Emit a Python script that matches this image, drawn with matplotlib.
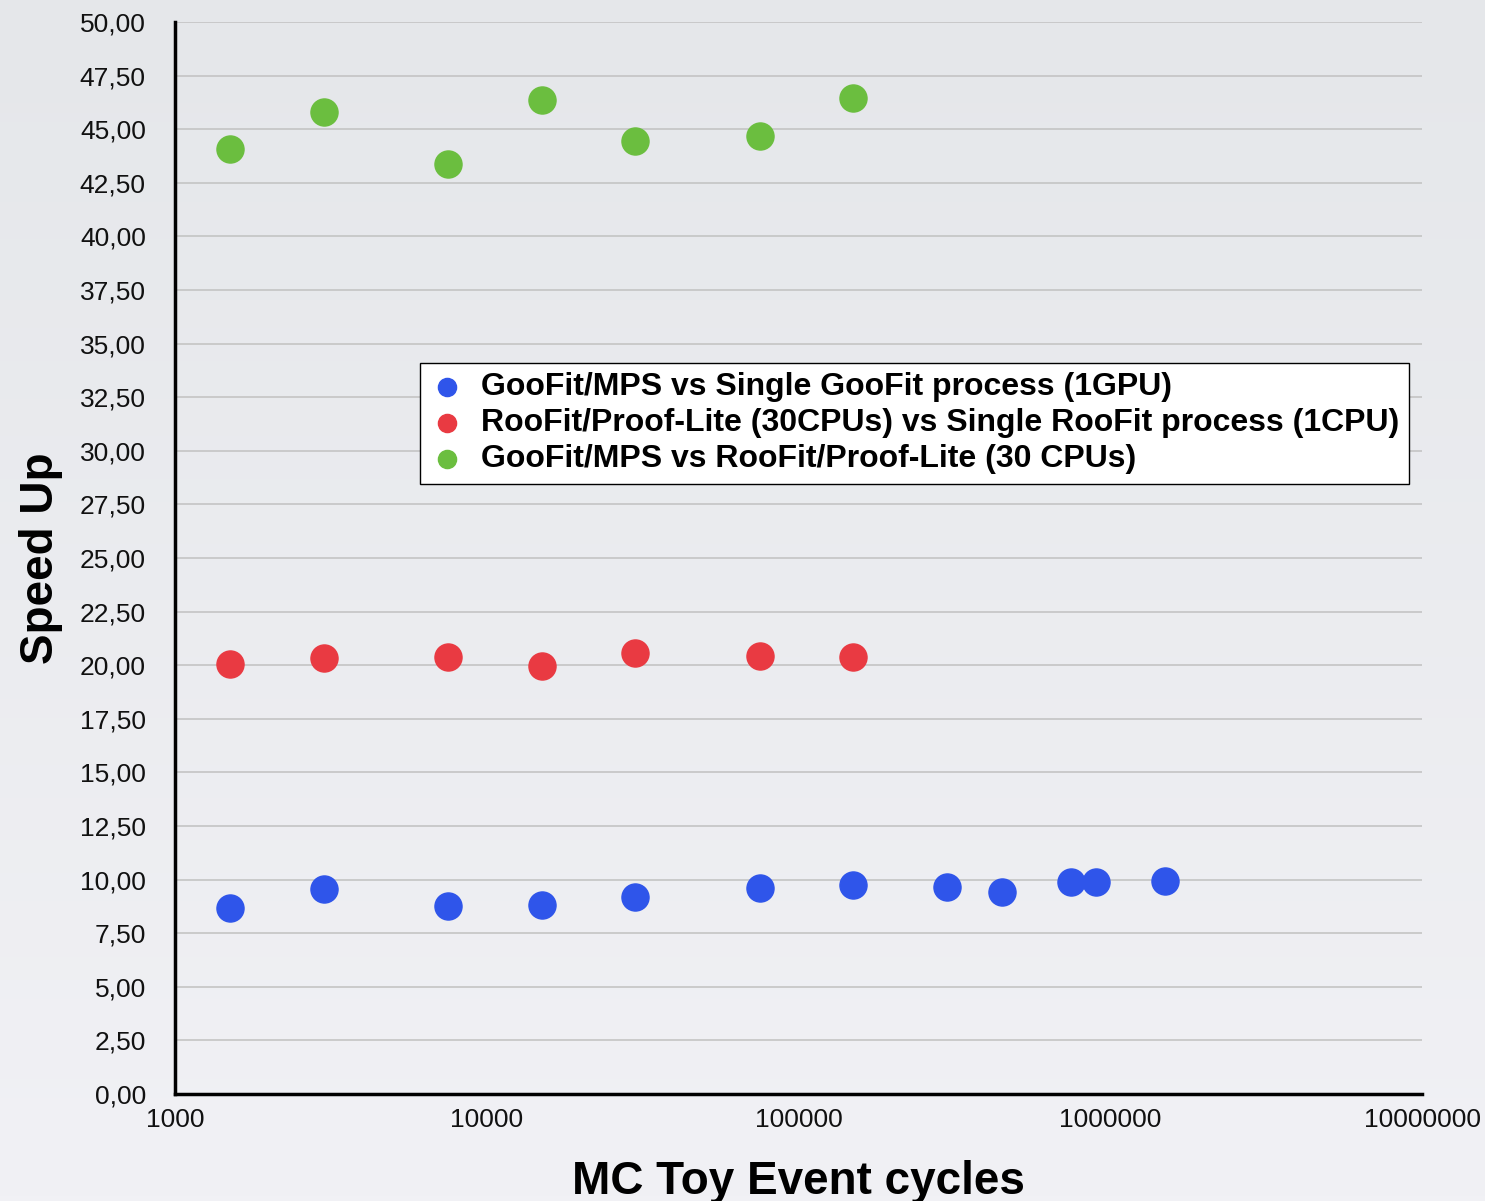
import numpy as np
import matplotlib.pyplot as plt
from matplotlib.colors import LinearSegmentedColormap
from matplotlib.ticker import FixedLocator, FuncFormatter

plt.rcParams['font.family'] = ['Liberation Sans', 'DejaVu Sans']

# MC toy event cycles and measured speed ups
cycles_gpu = [1500, 3000, 7500, 15000, 30000, 75000, 150000,
              300000, 450000, 750000, 900000, 1500000]
speedup_gpu = [8.68, 9.56, 8.77, 8.82, 9.19, 9.61, 9.75,
               9.65, 9.42, 9.89, 9.89, 9.93]

cycles_cpu = [1500, 3000, 7500, 15000, 30000, 75000, 150000]
speedup_cpu = [20.06, 20.34, 20.38, 19.96, 20.57, 20.43, 20.38]
speedup_gpu_vs_cpu = [44.08, 45.80, 43.38, 46.36, 44.45, 44.68, 46.45]

labels = ["GooFit/MPS vs Single GooFit process (1GPU)",
          "RooFit/Proof-Lite (30CPUs) vs Single RooFit process (1CPU)",
          "GooFit/MPS vs RooFit/Proof-Lite (30 CPUs)"]
colors = ["#2f55ea", "#e93a42", "#6bbe3f"]

x_ticks = [1000, 10000, 100000, 1000000, 10000000]
y_ticks = np.arange(0, 50.01, 2.5)

fig = plt.figure(figsize=(14.85, 12.01), dpi=100)

# soft grey backdrop, slightly darker at the top
bg = fig.add_axes([0, 0, 1, 1], zorder=-10)
grad = np.linspace(0, 1, 256).reshape(-1, 1)
bg.imshow(grad, aspect='auto', cmap=LinearSegmentedColormap.from_list(
    'bg', ['#e5e7ea', '#f1f1f5']), extent=[0, 1, 0, 1], origin='upper')
bg.axis('off')

ax = fig.add_axes([175 / 1485, 1 - 1094 / 1201, 1247 / 1485, 1072 / 1201])
ax.patch.set_alpha(0)

ax.scatter(cycles_gpu, speedup_gpu, s=380, color=colors[0], label=labels[0], zorder=3)
ax.scatter(cycles_cpu, speedup_cpu, s=380, color=colors[1], label=labels[1], zorder=3)
ax.scatter(cycles_cpu, speedup_gpu_vs_cpu, s=380, color=colors[2], label=labels[2], zorder=3)

ax.set_xscale('log')
ax.set_xlim(1000, 10000000)
ax.set_ylim(0, 50)
ax.xaxis.set_major_locator(FixedLocator(x_ticks))
ax.xaxis.set_minor_locator(FixedLocator([]))
ax.xaxis.set_major_formatter(FuncFormatter(lambda v, p: f"{int(round(v))}"))
ax.set_yticks(y_ticks)
ax.yaxis.set_major_formatter(FuncFormatter(lambda v, p: f"{v:.2f}".replace('.', ',')))
ax.tick_params(axis='both', length=0, labelsize=19, colors='#111111')
ax.tick_params(axis='x', pad=10)
ax.tick_params(axis='y', pad=21)

ax.grid(axis='y', color='#c4c4c4', linewidth=1.2, zorder=0)
ax.grid(axis='x', visible=False)
for side in ['top', 'right']:
    ax.spines[side].set_visible(False)
for side in ['left', 'bottom']:
    ax.spines[side].set_linewidth(2.5)
    ax.spines[side].set_color('black')

ax.set_ylabel("Speed Up", fontsize=33, fontweight='bold', labelpad=12)
ax.set_xlabel("MC Toy Event cycles", fontsize=33, fontweight='bold', labelpad=20)

leg = ax.legend(loc='upper left', bbox_to_anchor=(0.1965, 0.682), borderaxespad=0,
                prop={'size': 23, 'weight': 'bold'}, markerscale=0.67,
                handletextpad=0.5, handlelength=1.1, borderpad=0.3,
                labelspacing=0.18, fancybox=False, framealpha=1)
leg.get_frame().set_edgecolor('black')
leg.get_frame().set_linewidth(1.0)

fig.savefig('out.png', dpi=100)
